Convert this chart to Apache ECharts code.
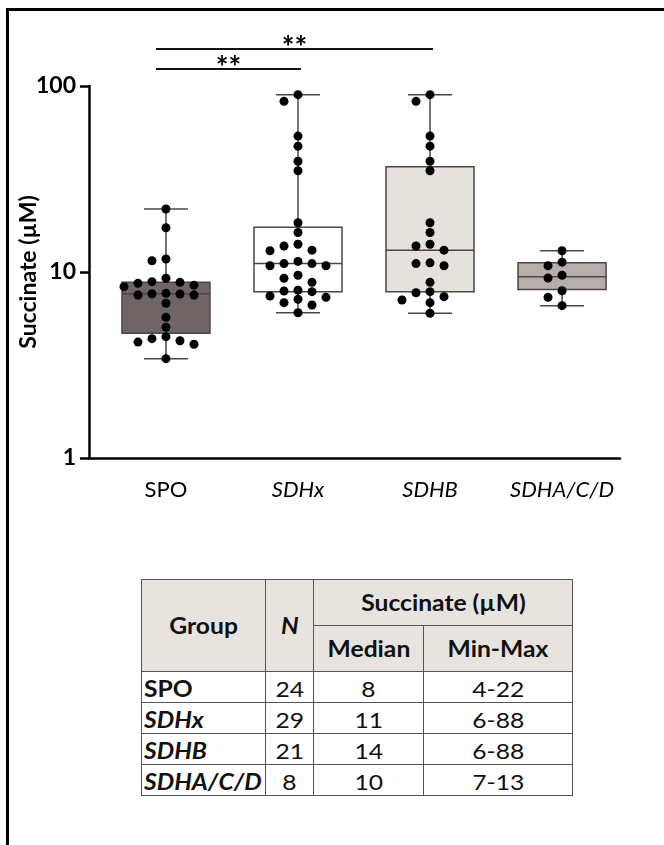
<!DOCTYPE html>
<html><head><meta charset="utf-8">
<script src="https://cdn.jsdelivr.net/npm/echarts@6/dist/echarts.min.js"></script>
<style>
html,body{margin:0;padding:0;background:#fff;width:664px;height:845px;overflow:hidden;font-family:Lato,'Open Sans',sans-serif}
#ftop{position:absolute;left:6px;top:8px;width:700px;height:3px;background:#000}
#fleft{position:absolute;left:6px;top:8px;width:3px;height:900px;background:#000}
#chart{position:absolute;left:0;top:0;width:664px;height:540px}
#tbl{position:absolute;left:141px;top:579px;border-collapse:collapse;font-family:Lato,sans-serif;font-size:22px;color:#111;table-layout:fixed}
#tbl th,#tbl td{border:1.5px solid #555;padding:0;box-sizing:border-box;white-space:nowrap}
#tbl th{background:#e7e4e0;font-weight:bold}
#tbl tr.h1 th,#tbl tr.h2 th{height:46px}
#tbl td{height:31px;text-align:center;vertical-align:bottom;padding-bottom:0px}
#tbl td.g{text-align:left;font-weight:bold;padding-left:2px}
#tbl span{display:inline-block;transform:scaleX(1.12)}
#tbl td.g span{transform-origin:0 50%}
</style></head>
<body>
<div id="chart"></div>
<div id="ftop"></div><div id="fleft"></div>
<table id="tbl">
<colgroup><col style="width:124px"><col style="width:48px"><col style="width:110px"><col style="width:149px"></colgroup>
<tbody id="tb">
<tr class="h1"><th rowspan="2"><span>Group</span></th><th rowspan="2"><span><i>N</i></span></th><th colspan="2"><span>Succinate (µM)</span></th></tr>
<tr class="h2"><th><span>Median</span></th><th><span>Min-Max</span></th></tr>
</tbody></table>
<script>
// ---------- data ----------
const categories = ['SPO', 'SDHx', 'SDHB', 'SDHA/C/D'];
const italicCats = [false, true, true, true];
const spoValues = [21.8, 17.3, 11.75, 11.5, 9.25, 8.87, 8.8, 8.69, 8.5, 8.34, 7.68, 7.52, 7.52, 7.64, 7.62, 6.79, 5.71, 5.04, 4.27, 4.49, 4.09, 4.38, 4.2, 3.42];
const sdhxValues = [89.8, 82.7, 53.8, 47.5, 39.4, 35, 18.4, 16.3, 13.1, 13.8, 13.0, 14.1, 10.8, 11.1, 11.1, 11.4, 10.8, 9.25, 9.6, 8.8, 7.99, 7.84, 7.9, 7.31, 7.13, 6.84, 7.43, 6.65, 6.04];
const sdhbValues = [89.8, 82.7, 53.8, 47.5, 39.4, 35, 18.4, 16.3, 13.1, 13.8, 14.1, 10.8, 11.1, 11.2, 8.8, 7.84, 7.74, 7.37, 7.07, 6.84, 6.0];
const sdhacdValues = [13.0, 11.3, 10.8, 9.6, 9.28, 7.93, 7.31, 6.59];
const boxMin = [3.42, 6.04, 6.0, 6.59];
const boxQ1 = [4.68, 7.84, 7.84, 8.05];
const boxMedian = [7.65, 11.1, 13.1, 9.43];
const boxQ3 = [8.8, 17.4, 36.8, 11.2];
const boxMax = [21.8, 89.8, 89.8, 13.0];
const sigPairs = [[0, 2], [0, 1]];
const sigLabels = ['**', '**'];
const yTitle = 'Succinate (µM)';
const tableN = [24, 29, 21, 8];
const tableMedian = [8, 11, 14, 10];
const tableMinMax = ['4-22', '6-88', '6-88', '7-13'];
// ---------- end data ----------

const groupValues = [spoValues, sdhxValues, sdhbValues, sdhacdValues];
const boxFill = ['#6f6567', '#ffffff', '#e5e2de', '#b5aeab'];
const lineColor = '#4d4547';
const FONT = 'Lato';

// table
const tb = document.getElementById('tb');
categories.forEach((c, i) => {
  const tr = document.createElement('tr');
  const g = document.createElement('td'); g.className = 'g';
  const gs = document.createElement('span'); gs.textContent = c;
  if (italicCats[i]) gs.style.fontStyle = 'italic';
  g.appendChild(gs);
  tr.appendChild(g);
  [tableN[i], tableMedian[i], tableMinMax[i]].forEach(v => {
    const td = document.createElement('td');
    const s = document.createElement('span'); s.textContent = v;
    td.appendChild(s); tr.appendChild(td);
  });
  tb.appendChild(tr);
});

const chart = echarts.init(document.getElementById('chart'));

function boxRender(params, api) {
  const i = api.value(0);
  const x = api.coord([i, 10])[0];
  const band = api.coord([i + 1, 10])[0] - x;
  const hw = band / 3, cw = band / 6;
  const y = k => api.coord([i, api.value(k)])[1];
  const yMin = y(1), yQ1 = y(2), yMed = y(3), yQ3 = y(4), yMax = y(5);
  const ls = { stroke: lineColor, lineWidth: 1.5 };
  return { type: 'group', children: [
    { type: 'line', shape: { x1: x, y1: yQ3, x2: x, y2: yMax }, style: ls },
    { type: 'line', shape: { x1: x, y1: yQ1, x2: x, y2: yMin }, style: ls },
    { type: 'line', shape: { x1: x - cw, y1: yMax, x2: x + cw, y2: yMax }, style: ls },
    { type: 'line', shape: { x1: x - cw, y1: yMin, x2: x + cw, y2: yMin }, style: ls },
    { type: 'rect', shape: { x: x - hw, y: yQ3, width: 2 * hw, height: yQ1 - yQ3 }, style: { fill: boxFill[i], stroke: lineColor, lineWidth: 1.5 } },
    { type: 'line', shape: { x1: x - hw, y1: yMed, x2: x + hw, y2: yMed }, style: ls }
  ]};
}

function sigRender(params, api) {
  const a = api.value(0), b = api.value(1), row = api.value(2) - 1;
  const top = api.coord([0, 100])[1];
  const yLine = top - 37 + row * 20;
  const x1 = api.coord([a, 10])[0] - 10, x2 = api.coord([b, 10])[0] + 3;
  return { type: 'group', children: [
    { type: 'line', shape: { x1: x1, y1: yLine, x2: x2, y2: yLine }, style: { stroke: '#111', lineWidth: 2 } },
    { type: 'text', x: (x1 + x2) / 2, y: yLine + 14, style: { text: sigLabels[params.dataIndex], fill: '#000', font: 'bold 30px ' + FONT, textAlign: 'center', textVerticalAlign: 'bottom' } }
  ]};
}

const boxData = categories.map((c, i) => [i, boxMin[i], boxQ1[i], boxMedian[i], boxQ3[i], boxMax[i]]);
const sigData = sigPairs.map((p, r) => [p[0], p[1], r + 1]);
const rawDots = [];
groupValues.forEach((vals, g) => vals.forEach(v => rawDots.push([g, v])));

const option = {
  animation: false,
  grid: { left: 89, right: 44, top: 86, bottom: 82, containLabel: false, outerBoundsMode: 'none' },
  xAxis: {
    type: 'value', min: -0.583, max: 3.439,
    splitLine: { show: false },
    axisTick: { show: false },
    axisLine: { show: true, onZero: false, lineStyle: { color: '#000', width: 2.5 } },
    axisLabel: {
      customValues: [0, 1, 2, 3],
      margin: 21,
      formatter: v => { const i = Math.round(v); return (italicCats[i] ? '{it|' : '{n|') + categories[i] + '}'; },
      rich: {
        it: { fontStyle: 'italic', fontSize: 22, fontFamily: FONT, color: '#000' },
        n: { fontSize: 22, fontFamily: FONT, color: '#000' }
      }
    }
  },
  yAxis: {
    type: 'log', logBase: 10, min: 1, max: 100,
    splitLine: { show: false },
    axisLine: { show: true, onZero: false, lineStyle: { color: '#000', width: 2.5 } },
    axisTick: { show: true, length: 9, lineStyle: { color: '#000', width: 2.5 } },
    minorTick: { show: false },
    axisLabel: { color: '#000', fontSize: 23, fontWeight: 'bold', fontFamily: FONT, margin: 13 }
  },
  series: [
    { type: 'custom', id: 'boxes', renderItem: boxRender, data: boxData, encode: { x: 0, y: [1, 2, 3, 4, 5] }, z: 2 },
    { type: 'scatter', id: 'dots', data: rawDots, symbolSize: 9, itemStyle: { color: '#000', opacity: 1 }, z: 3 },
    { type: 'custom', id: 'sig', renderItem: sigRender, data: sigData, encode: { x: [0, 1], y: 2 }, z: 4, clip: false }
  ]
};
chart.setOption(option);

function layoutDots() {
  const dotData = [];
  groupValues.forEach((vals, g) => {
    const cx = chart.convertToPixel({ xAxisIndex: 0, yAxisIndex: 0 }, [g, 10])[0];
    const band = chart.convertToPixel({ xAxisIndex: 0, yAxisIndex: 0 }, [g + 1, 10])[0] - cx;
    const placed = [];
    const sorted = vals.slice().sort((a, b) => b - a);
    sorted.forEach(v => {
      const py = chart.convertToPixel({ xAxisIndex: 0, yAxisIndex: 0 }, [g, v])[1];
      const step = 14, minD = 9;
      let off = 0;
      for (let k = 0; k < 15; k++) {
        const cand = k === 0 ? 0 : (k % 2 === 1 ? -Math.ceil(k / 2) * step : Math.ceil(k / 2) * step);
        if (placed.every(p => Math.hypot(p[0] - cand, p[1] - py) >= minD)) { off = cand; break; }
      }
      placed.push([off, py]);
      dotData.push([g + off / band, v]);
    });
  });
  const mid = chart.convertToPixel({ xAxisIndex: 0, yAxisIndex: 0 }, [0, 10]);
  chart.setOption({
    series: [{ id: 'dots', data: dotData }],
    graphic: [{ type: 'text', x: 29, y: mid[1], rotation: Math.PI / 2,
      style: { text: yTitle, fill: '#000', font: 'bold 23px ' + FONT, textAlign: 'center', textVerticalAlign: 'middle' } }]
  });
}
layoutDots();
</script>
</body></html>
